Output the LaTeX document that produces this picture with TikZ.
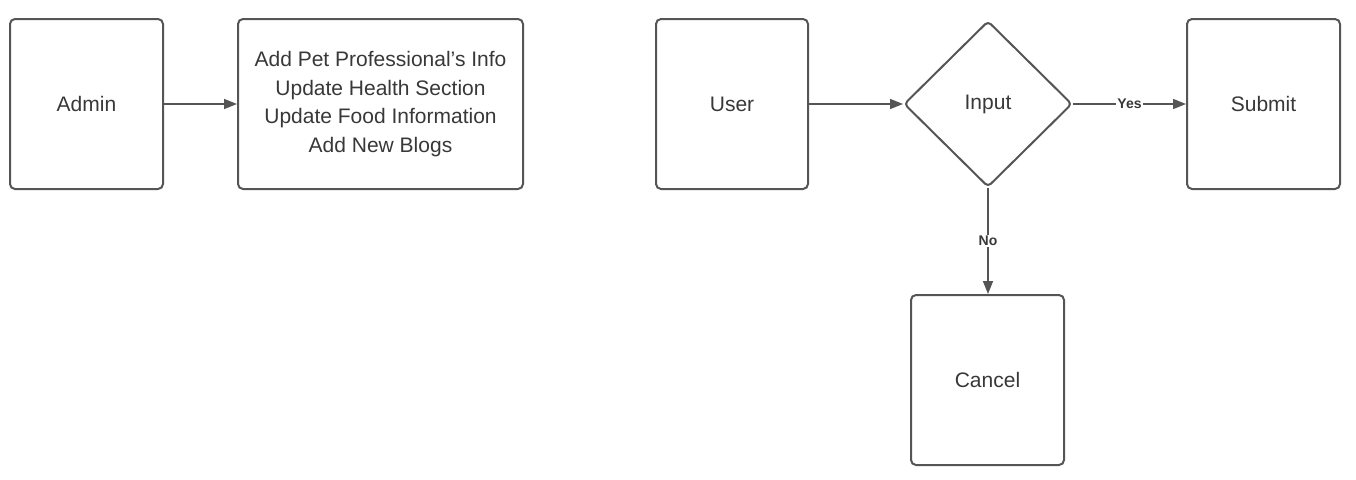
\documentclass[tikz,border=0pt]{standalone}
\usepackage{fontspec}
\setmainfont{Liberation Sans}
\usetikzlibrary{shapes.geometric,arrows.meta}
\definecolor{stroke}{HTML}{555555}
\definecolor{txt}{HTML}{383838}
\tikzset{
  box/.style={draw=stroke, line width=2pt, rounded corners=5pt, inner sep=0pt, font=\fontsize{21}{28.5}\selectfont, text=txt, align=center},
  dec/.style={draw=stroke, line width=2pt, diamond, rounded corners=4pt, inner sep=0pt, minimum width=168pt, minimum height=166pt, font=\fontsize{21}{28}\selectfont, text=txt},
  conn/.style={draw=stroke, line width=1.6pt, -{Triangle[length=13pt,width=10pt]}},
  lbl/.style={fill=white, inner sep=1pt, font=\bfseries\fontsize{14}{16}\selectfont, text=txt}
}
\begin{document}
\begin{tikzpicture}[x=1pt,y=-1pt]
\useasboundingbox (0,0) rectangle (1356,479);
\node[box, minimum width=153pt, minimum height=170pt] (admin) at (86.5,104) {Admin};
\node[box, minimum width=285pt, minimum height=170pt] (info) at (380.5,104) {Add Pet Professional{\char"0027}s Info\\Update Health Section\\Update Food Information\\Add New Blogs};
\node[box, minimum width=152pt, minimum height=170pt] (user) at (732,104) {User};
\node[dec] (input) at (988,104) {Input};
\node[box, minimum width=153pt, minimum height=170pt] (submit) at (1263.5,104) {Submit};
\node[box, minimum width=153pt, minimum height=170pt] (cancel) at (987.5,380) {Cancel};
\draw[conn] (admin.east) -- (info.west);
\draw[conn] (user.east) -- (input.west);
\draw[conn] (input.east) -- node[lbl] {Yes} (submit.west);
\draw[conn] (input.south) -- node[lbl, pos=0.5] {No} (input.south |- cancel.north);
\end{tikzpicture}
\end{document}
